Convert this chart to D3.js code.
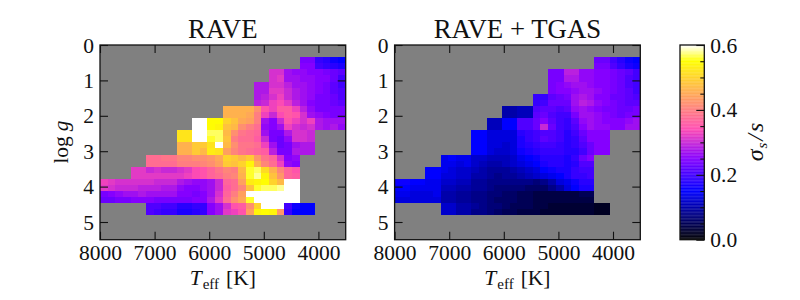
<!DOCTYPE html>
<html><head><meta charset="utf-8">
<script src="https://cdn.jsdelivr.net/npm/d3@7"></script>
<style>
html,body{margin:0;padding:0;background:#fff}
text{font-family:"Liberation Serif",serif;fill:#111}
</style></head><body><div id="c"></div>
<script>
// Binned uncertainty values in units of 0.01, row by row from low log g. Each row starts at a given column.
const firstRow = 2;
const raveStarts = [26,26,22,22,20,20,20,20,16,16,12,12,10,10,10,10,6,6,4,4,0,0,0,0,6,6];
const raveRows = [
[24,24,19,18,16,15],
[25,25,20,19,18,17],
[31,31,27,26,26,25,25,24,23,22],
[31,32,27,27,26,26,25,25,23,20],
[28,28,31,31,29,27,27,26,25,24,22,20],
[28,28,32,32,30,28,27,26,25,24,22,21],
[28,29,31,33,30,28,27,26,24,24,23,21],
[29,30,33,34,32,29,27,25,24,24,23,22],
[46,46,46,46,42,35,33,36,36,33,29,26,24,24,24,24],
[46,46,46,45,40,33,30,34,36,35,31,27,26,25,24,24],
[60,60,55,55,50,48,45,44,40,27,25,30,35,33,31,33,28,27,27,27],
[60,60,55,54,48,47,42,40,38,26,25,27,33,31,30,31,28,27,28,26],
[52,52,60,60,57,57,47,42,39,38,37,27,24,24,28,31,31,30],
[52,52,60,60,56,57,48,40,38,38,36,30,24,23,26,31,31,30],
[46,46,49,49,52,60,47,42,39,39,38,33,27,23,24,27,28,28],
[46,46,49,47,53,52,44,41,39,38,37,36,29,24,24,28,28,28],
[38,38,39,39,41,41,42,42,43,45,50,49,47,49,43,39,37,31,25,26],
[38,38,38,38,40,40,40,41,42,44,49,48,50,54,46,41,38,33,26,25],
[32,32,30,31,30,30,31,32,34,35,37,39,41,40,47,56,57,51,46,41,37,35],
[32,32,32,32,32,32,32,33,34,35,37,38,40,41,46,56,58,54,48,43,37,36],
[33,32,31,31,31,31,31,30,30,30,28,27,26,26,27,30,37,38,44,53,54,55,50,47,60,60],
[32,31,30,30,30,29,29,29,28,28,26,25,25,26,27,30,36,38,41,48,56,57,57,58,60,60],
[24,25,26,27,27,28,27,27,27,27,25,25,24,25,27,31,37,40,44,60,60,60,60,60,60,60],
[23,23,24,24,25,25,25,24,24,24,24,24,25,25,28,32,38,42,45,56,60,60,60,60,60,60],
[21,21,20,20,18,18,19,19,25,27,31,35,36,42,50,60,60,60,20,16,15,15],
[21,20,19,19,17,17,18,19,25,27,32,33,35,44,54,55,54,43,19,15,15,15]
];
const tgasStarts = [26,26,20,20,20,20,18,18,14,14,12,12,10,10,10,10,6,6,4,4,0,0,0,0,6,6];
const tgasRows = [
[23,23,20,18,16,15],
[24,24,21,19,17,16],
[24,24,29,29,26,26,25,25,24,23,22,20],
[24,24,28,28,26,26,25,25,24,23,21,20],
[24,25,26,27,27,26,25,25,24,23,21,20],
[24,25,25,26,27,27,26,25,24,23,22,20],
[19,19,22,23,24,27,28,27,25,25,23,23,22,21],
[19,20,23,23,23,27,29,28,26,25,24,23,22,22],
[10,10,11,11,21,22,22,21,22,26,27,26,25,24,24,23,23,24],
[10,10,11,11,22,23,21,20,20,24,27,27,26,25,24,23,24,24],
[11,11,15,15,21,21,23,25,22,20,19,22,26,27,26,25,25,25,26,27],
[11,11,15,15,21,21,23,30,23,20,19,21,25,27,26,26,25,25,27,27],
[15,15,13,13,13,13,18,19,20,21,21,20,18,20,23,25,25,25],
[15,15,13,13,13,13,17,19,20,22,21,20,18,19,22,25,25,25],
[15,15,13,13,12,13,17,18,19,20,20,19,18,19,21,23,25,25],
[15,15,13,12,12,13,16,17,18,19,19,19,18,18,20,23,25,25],
[14,15,14,14,12,12,11,11,11,12,14,15,16,18,18,18,17,19,23,25],
[14,14,13,14,12,11,10,10,11,12,13,14,15,17,18,18,17,18,21,21],
[15,15,14,13,12,12,11,10,9,9,9,10,11,12,13,15,16,17,17,19,20,20],
[15,15,13,13,12,12,10,10,9,8,9,9,10,11,12,13,14,15,17,19,19,20],
[16,16,15,15,14,14,12,12,11,11,9,9,8,8,8,8,8,8,7,8,10,13,14,16,18,18],
[15,15,14,14,14,14,11,11,10,10,9,9,8,7,7,7,7,6,6,6,8,10,13,15,17,17],
[14,14,13,13,13,14,10,10,9,9,8,8,7,7,6,6,5,5,4,4,4,4,4,4,5,5],
[13,13,13,13,13,13,10,10,9,9,8,8,7,6,6,6,5,5,4,4,4,4,4,4,4,4],
[12,12,10,10,9,8,7,7,6,5,5,5,4,4,3,3,3,3,3,3,2,2],
[12,12,10,10,8,8,7,6,5,5,4,4,4,3,3,3,3,3,3,3,2,2]
];
const teffTicks = [8000,7000,6000,5000,4000];
const loggTicks = [0,1,2,3,4,5];
const cbarTicks = [0,0.2,0.4,0.6];
const cbarMinor = [0.05,0.1,0.15,0.25,0.3,0.35,0.45,0.5,0.55];
const titles = ["RAVE","RAVE + TGAS"];

const teffDomain = [8000,3500], loggDomain = [0,5.5], nBins = 32;
const cl = v => Math.max(0,Math.min(1,v));
// matplotlib gnuplot2 colour map
const gnuplot2 = t => {
  const r = cl(t/0.32-0.78125), g = cl(2*t-0.84);
  const b = t<0.25 ? 4*t : t<0.92 ? -2*t+1.84 : t/0.08-11.5;
  return d3.rgb(r*255,g*255,cl(b)*255).formatHex();
};
const color = d3.scaleSequential(gnuplot2).domain([0,0.6]).clamp(true);

const svg = d3.select("#c").append("svg").attr("width",800).attr("height",300).style("display","block");
const top_=45, bottom=239.7, w=245.7;

function panel(x0,title,starts,rows,showLabel){
  const x = d3.scaleLinear().domain(teffDomain).range([x0,x0+w]);
  const y = d3.scaleLinear().domain(loggDomain).range([top_,bottom]);
  const dT = (teffDomain[0]-teffDomain[1])/nBins, dG = (loggDomain[1]-loggDomain[0])/nBins;
  const g = svg.append("g");
  g.append("rect").attr("x",x0).attr("y",top_).attr("width",w).attr("height",bottom-top_).attr("fill","#808080");
  const cells = [];
  rows.forEach((r,k)=>r.forEach((v,c)=>cells.push({i:c+starts[k],j:k+firstRow,v:v/100})));
  g.append("g").selectAll("rect").data(cells).join("rect")
    .attr("x",d=>x(teffDomain[0]-d.i*dT))
    .attr("y",d=>y(d.j*dG))
    .attr("width",d=>x(teffDomain[0]-(d.i+1)*dT)-x(teffDomain[0]-d.i*dT))
    .attr("height",d=>y((d.j+1)*dG)-y(d.j*dG))
    .attr("shape-rendering","crispEdges")
    .attr("fill",d=>color(d.v));
  const ax = (a,tr)=>{
    const s=g.append("g").attr("transform",tr).call(a);
    s.selectAll("path").remove();
    s.selectAll("line").attr("stroke","#111").attr("stroke-width",1.1);
    s.selectAll("text").style("font-size","21.5px").style("font-family",'"Liberation Serif",serif').attr("fill","#111");
    return s;
  };
  const fmt = d3.format("d");
  const b = ax(d3.axisBottom(x).tickValues(teffTicks).tickSize(-8).tickPadding(0).tickFormat(fmt),`translate(0,${bottom})`);
  b.selectAll("text").attr("y",20.5).attr("dy",0);
  ax(d3.axisTop(x).tickValues(teffTicks).tickSize(-8).tickFormat(""),`translate(0,${top_})`);
  const l = ax(d3.axisLeft(y).tickValues(loggTicks).tickSize(-8).tickPadding(0).tickFormat(fmt),`translate(${x0},0)`);
  l.selectAll("text").attr("x",-6).attr("dy",7);
  ax(d3.axisRight(y).tickValues(loggTicks).tickSize(-8).tickFormat(""),`translate(${x0+w},0)`);
  g.append("rect").attr("x",x0).attr("y",top_).attr("width",w).attr("height",bottom-top_)
    .attr("fill","none").attr("stroke","#111").attr("stroke-width",1.3);
  g.append("text").attr("x",x0+w/2).attr("y",38).attr("text-anchor","middle").style("font-size","26.8px").text(title);
  const t = g.append("text").attr("x",x0+w/2).attr("y",285).attr("text-anchor","middle").style("font-size","21.5px");
  t.append("tspan").style("font-style","italic").text("T");
  t.append("tspan").attr("dy",4).attr("dx",1).style("font-size","15px").text("eff");
  t.append("tspan").attr("dy",-4).attr("dx",7).text("[K]");
  if(showLabel){
    const yl = g.append("text").attr("transform",`translate(68,142) rotate(-90)`).attr("text-anchor","middle").style("font-size","21.5px");
    yl.append("tspan").text("log");
    yl.append("tspan").attr("dx",5).style("font-style","italic").text("g");
  }
}
panel(100,titles[0],raveStarts,raveRows,true);
panel(394.6,titles[1],tgasStarts,tgasRows,false);

// colour bar
const cx0=680, cw=24.3;
const cy = d3.scaleLinear().domain([0,0.6]).range([bottom,top_]);
const cb = svg.append("g");
const levels = d3.range(0,256).map(k=>k/256*0.6);
cb.append("g").selectAll("rect").data(levels).join("rect")
  .attr("x",cx0).attr("width",cw)
  .attr("y",d=>cy(d+0.6/256)).attr("height",d=>cy(d)-cy(d+0.6/256)+0.3)
  .attr("fill",d=>color(d+0.3/256));
const rAxis = cb.append("g").attr("transform",`translate(${cx0+cw},0)`)
  .call(d3.axisRight(cy).tickValues(cbarTicks).tickSize(-8).tickPadding(0).tickFormat(d3.format(".1f")));
rAxis.selectAll("path").remove();
rAxis.selectAll("line").attr("stroke","#111").attr("stroke-width",1.1);
rAxis.selectAll("text").attr("x",6).attr("dy",7).style("font-size","21.5px").style("font-family",'"Liberation Serif",serif').attr("fill","#111");
const rMinor = cb.append("g").attr("transform",`translate(${cx0+cw},0)`)
  .call(d3.axisRight(cy).tickValues(cbarMinor).tickSize(-4).tickFormat(""));
rMinor.selectAll("path").remove();
rMinor.selectAll("line").attr("stroke","#111").attr("stroke-width",1.1);
cb.append("rect").attr("x",cx0).attr("y",top_).attr("width",cw).attr("height",bottom-top_)
  .attr("fill","none").attr("stroke","#111").attr("stroke-width",1.3);
const cl2 = svg.append("text").attr("transform",`translate(763,142) rotate(-90)`).attr("text-anchor","middle").style("font-size","24px");
cl2.append("tspan").style("font-style","italic").text("σ");
cl2.append("tspan").attr("dy",4).attr("dx",1).style("font-size","15px").style("font-style","italic").text("s");
cl2.append("tspan").attr("dy",-4).attr("dx",2).style("font-style","italic").text("/");
cl2.append("tspan").attr("dx",2).style("font-style","italic").text("s");
</script></body></html>
